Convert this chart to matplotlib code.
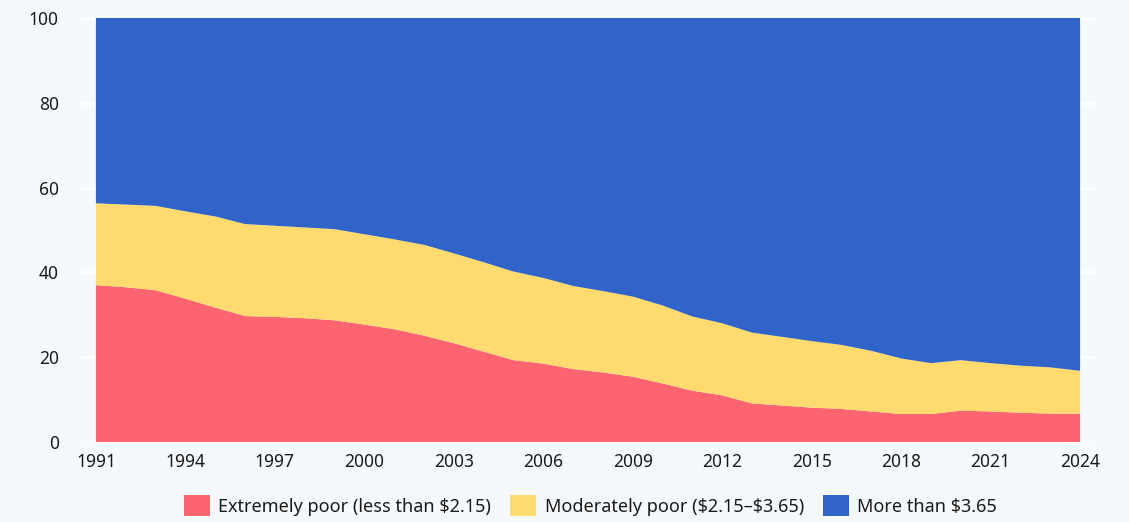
import matplotlib.pyplot as plt
from matplotlib.patches import Patch
import numpy as np

plt.rcParams['font.family'] = ['Noto Sans', 'DejaVu Sans']

years = list(range(1991, 2025))

# share of population, %
extreme = [37.0, 36.5, 35.8, 33.8, 31.7, 29.7, 29.5, 29.2, 28.7, 27.7,
           26.6, 25.1, 23.3, 21.3, 19.3, 18.5, 17.2, 16.4, 15.4, 13.8,
           12.1, 11.0, 9.1, 8.6, 8.1, 7.8, 7.2, 6.6, 6.6, 7.4,
           7.2, 6.9, 6.7, 6.7]
# cumulative top of the "moderately poor" band
poor_total = [56.3, 56.0, 55.7, 54.4, 53.2, 51.4, 51.0, 50.6, 50.2, 49.0,
              47.8, 46.5, 44.5, 42.4, 40.2, 38.7, 36.8, 35.6, 34.3, 32.2,
              29.6, 28.0, 25.8, 24.8, 23.8, 22.9, 21.5, 19.7, 18.6, 19.3,
              18.6, 18.0, 17.6, 16.8]

moderate = np.array(poor_total) - np.array(extreme)
upper = 100 - np.array(poor_total)

labels = ['Extremely poor (less than \\$2.15)',
          'Moderately poor (\\$2.15\u2013\\$3.65)',
          'More than \\$3.65']
colors = ['#FC6470', '#FFDA6E', '#3164C8']
xticks = list(range(1991, 2025, 3))
yticks = [0, 20, 40, 60, 80, 100]

bg = '#F6F9FC'
fig = plt.figure(figsize=(11.29, 5.22), dpi=100, facecolor=bg)
ax = fig.add_axes([81 / 1129, 80 / 522, 1014 / 1129, 424 / 522])
ax.set_facecolor(bg)

ax.stackplot(years, extreme, moderate, upper, colors=colors, linewidth=0, zorder=2)

ax.set_xlim(1990.5, 2024.5)
ax.set_ylim(0, 100)
ax.set_xticks(xticks)
ax.set_yticks(yticks)
ax.grid(axis='y', color='white', linewidth=2, zorder=0)
ax.set_axisbelow(True)
for s in ax.spines.values():
    s.set_visible(False)
ax.tick_params(length=0, labelsize=12.5, colors='#1a1a1a')
ax.tick_params(axis='y', pad=16)
ax.tick_params(axis='x', pad=8)

handles = [Patch(facecolor=c, edgecolor='none') for c in colors]
fig.legend(handles, labels, loc='upper center', bbox_to_anchor=(0.523, 0.052),
           ncol=3, frameon=False, fontsize=13, handlelength=1.45,
           handleheight=1.45, handletextpad=0.45, columnspacing=1.05,
           borderaxespad=0, borderpad=0, labelcolor='#1a1a1a')

fig.savefig('out.png', dpi=100, facecolor=bg)
